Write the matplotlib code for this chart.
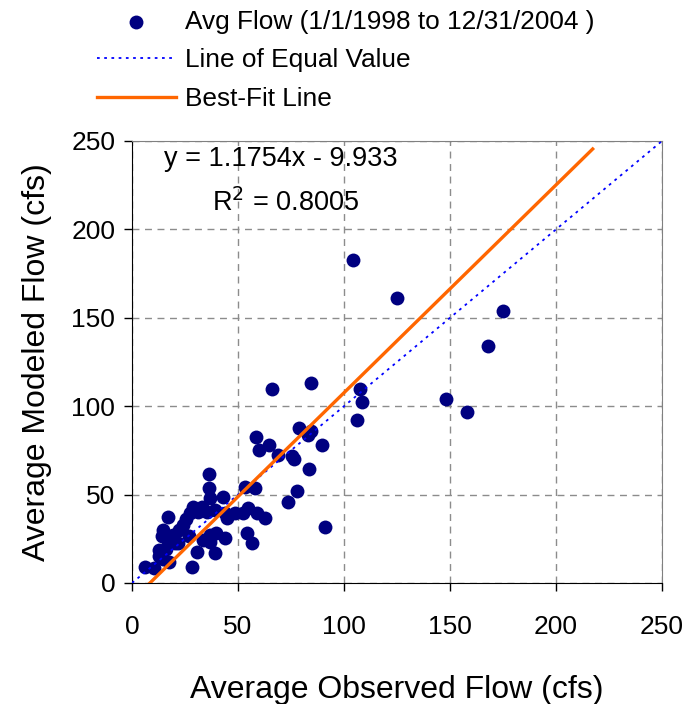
import matplotlib
matplotlib.use("Agg")
import matplotlib.pyplot as plt
import numpy as np

plt.rcParams["font.family"] = ["Liberation Sans", "DejaVu Sans"]

# observed vs modeled average flow (cfs)
observed = [
    6.1, 10.4, 12.9, 16.0, 17.6, 14.8, 14.8, 14.3, 17.1, 19.5,
    22.3, 21.8, 18.0, 27.0, 28.3, 30.5, 27.4, 28.6, 32.9, 35.2,
    39.2, 36.5, 36.5, 36.8, 42.8, 43.9, 48.6, 52.5, 33.6, 36.8,
    39.6, 43.9, 39.2, 36.8, 54.1, 56.4, 53.3, 58.0, 54.9, 58.8,
    62.7, 58.6, 60.0, 64.7, 69.0, 75.6, 76.5, 78.9, 83.2, 89.5,
    83.5, 78.0, 73.7, 91.0, 84.3, 66.0, 107.5, 108.3, 106.0, 104.4,
    124.9, 175.0, 167.8, 148.1, 157.9, 16.5, 20.5, 24.0, 31.0, 45.0,
    12.5, 25.5, 84.5,
]
modeled = [
    9.2, 8.5, 18.7, 19.0, 12.0, 13.4, 30.0, 26.5, 37.5, 27.2,
    30.0, 22.4, 24.0, 26.6, 8.9, 17.5, 39.4, 42.8, 43.2, 40.3,
    41.3, 61.7, 53.5, 47.9, 48.8, 39.4, 39.4, 39.4, 24.3, 27.2,
    28.1, 25.3, 16.8, 23.4, 28.1, 22.4, 54.5, 53.5, 42.2, 39.4,
    36.6, 82.6, 75.2, 78.0, 72.4, 71.8, 70.0, 87.8, 83.7, 78.0,
    64.3, 52.0, 46.0, 31.8, 113.0, 109.5, 109.5, 102.2, 92.2, 182.7,
    161.0, 154.0, 134.0, 104.0, 96.9, 25.0, 22.5, 33.0, 40.0, 37.0,
    15.5, 36.0, 86.0,
]

slope = 1.1754
intercept = -9.933
fit_x = [-intercept / slope, 217.3]
equal_x = [0, 250]
ticks = [0, 50, 100, 150, 200, 250]

fig = plt.figure(figsize=(6.88, 7.04), dpi=100)
ax = fig.add_axes([132 / 688, 1 - 583 / 704, 530 / 688, 442 / 704])

pts = ax.scatter(observed, modeled, s=100, color="#000080", zorder=3,
                 linewidths=0, label="Avg Flow (1/1/1998 to 12/31/2004 )")
eq_line, = ax.plot(equal_x, equal_x, color="#0000ff", lw=1.3,
                   linestyle=(0, (1.5, 2.5)), zorder=4, label="Line of Equal Value")
fit_line, = ax.plot(fit_x, [slope * v + intercept for v in fit_x], color="#ff6600",
                    lw=2.4, zorder=5, label="Best-Fit Line")

ax.set_xlim(0, 250)
ax.set_ylim(0, 250)
ax.set_xticks(ticks)
ax.set_yticks(ticks)
ax.grid(True, color="#8c8c8c", lw=1, linestyle=(0, (5, 4)))
ax.set_axisbelow(True)
ax.tick_params(axis="both", direction="out", length=6, width=1, labelsize=19)
ax.tick_params(axis="x", pad=17)
ax.tick_params(axis="y", pad=6)
for side in ("top", "right"):
    ax.spines[side].set_color("#808080")
for side in ("left", "bottom"):
    ax.spines[side].set_color("black")

ax.set_xlabel("Average Observed Flow (cfs)", fontsize=23, labelpad=26)
ax.set_ylabel("Average Modeled Flow (cfs)", fontsize=23, labelpad=14)

ax.text(0.28, 0.988, "y = 1.1754x - 9.933", transform=ax.transAxes,
        fontsize=19.5, ha="center", va="top")
ax.text(0.29, 0.893, "R$^{2}$ = 0.8005", transform=ax.transAxes,
        fontsize=19.5, ha="center", va="top")

ax.legend(handles=[pts, eq_line, fit_line], loc="upper left",
          bbox_to_anchor=(97 / 688, 1 - 10 / 704), bbox_transform=fig.transFigure,
          frameon=False, fontsize=18.9, handlelength=3.0, handletextpad=0.35,
          labelspacing=0.55, borderpad=0, borderaxespad=0, markerscale=1.0)

fig.savefig("out.png", dpi=100)
